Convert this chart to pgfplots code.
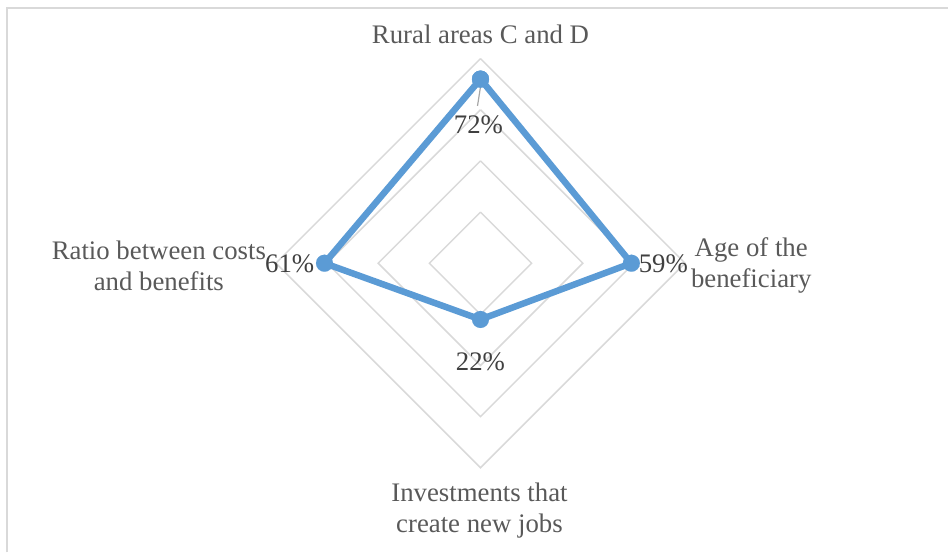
\documentclass[border=0pt]{standalone}
\usepackage{fontspec}
\setmainfont{Liberation Serif}
\usepackage{pgfplots}
\pgfplotsset{compat=1.18}
\definecolor{serblue}{HTML}{5B9BD5}
\definecolor{gridgray}{HTML}{D9D9D9}
\definecolor{labgray}{HTML}{595959}
\definecolor{valgray}{HTML}{404040}
\begin{document}
\begin{tikzpicture}
\begin{axis}[
  width=949bp, height=553bp, scale only axis,
  xmin=-1.8789, xmax=1.8281, ymin=-1.1309, ymax=1.0293,
  hide axis, clip=false,
]
\path[draw=none] (rel axis cs:0,0) rectangle (rel axis cs:1,1);
% grid diamonds (20%, 40%, 60%, 80%)
\addplot[gridgray, line width=1.5bp] coordinates {(0,0.2)(0.2,0)(0,-0.2)(-0.2,0)(0,0.2)};
\addplot[gridgray, line width=1.5bp] coordinates {(0,0.4)(0.4,0)(0,-0.4)(-0.4,0)(0,0.4)};
\addplot[gridgray, line width=1.5bp] coordinates {(0,0.6)(0.6,0)(0,-0.6)(-0.6,0)(0,0.6)};
\addplot[gridgray, line width=1.5bp] coordinates {(0,0.8)(0.8,0)(0,-0.8)(-0.8,0)(0,0.8)};
% leader line
\draw[gray!70, line width=1.2bp] (axis cs:0,0.69) -- (axis cs:-0.0117,0.615);
% data: Rural 72%, Age 59%, Investments 22%, Ratio 61%
\addplot[serblue, line width=6.5bp, line join=round, mark=*, mark size=8.5bp,
  mark options={fill=serblue, draw=serblue, line width=0.1bp}]
  coordinates {(0,0.72)(0.59,0)(0,-0.22)(-0.61,0)(0,0.72)};
% frame
\draw[gridgray, line width=2bp] (axis cs:-1.8516,-1.1309) -- (axis cs:-1.8516,0.998) -- (axis cs:1.8281,0.998);
% category labels
\begin{scope}[every node/.style={font=\fontsize{26.8bp}{31bp}\selectfont, text=labgray, inner sep=0pt}]
\node[anchor=base] at (axis cs:0,0.861) {Rural areas C and D};
\node[align=center] at (axis cs:1.0586,-0.0098) {Age of the\\beneficiary};
\node[align=center] at (axis cs:-1.2578,-0.0098) {Ratio between costs\\and benefits};
\node[align=center] at (axis cs:-0.004,-0.967) {Investments that\\create new jobs};
\end{scope}
% value labels
\begin{scope}[every node/.style={font=\fontsize{26.8bp}{31bp}\selectfont, text=valgray, inner sep=0pt}]
\node at (axis cs:-0.0078,0.541) {72\%};
\node at (axis cs:0.7148,-0.002) {59\%};
\node at (axis cs:-0.746,-0.002) {61\%};
\node at (axis cs:0,-0.385) {22\%};
\end{scope}
\end{axis}
\end{tikzpicture}
\end{document}
